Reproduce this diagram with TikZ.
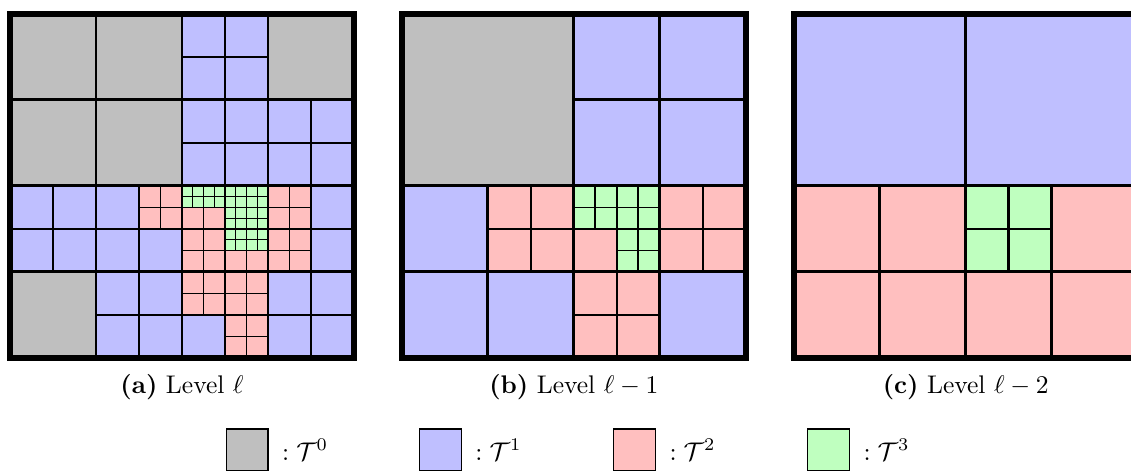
\documentclass[tikz,border=0pt]{standalone}
\usepackage{amsmath}
\definecolor{tcol0}{RGB}{191,191,191}
\definecolor{tcol1}{RGB}{191,191,255}
\definecolor{tcol2}{RGB}{255,191,191}
\definecolor{tcol3}{RGB}{191,255,191}

\begin{document}
\begin{tikzpicture}[x=4.214pt, y=4.214pt, border/.style = {line width=2.4pt}, lw16/.style = {line width=1.2pt}, lw8/.style = {line width=1.15pt}, lw4/.style = {line width=1pt}, lw2/.style = {line width=0.75pt}, lw1/.style = {line width=0.4pt}, key/.style = {draw, line width=0.6pt, minimum size=16.4pt, inner sep=0pt}]

    \useasboundingbox (-0.93,-10.95) rectangle (104.28,33.30);

    % level l
    \fill[tcol1] (0,0) rectangle (32,32);
    \fill[tcol0] (0,16) rectangle (16,32) (24,24) rectangle (32,32) (0,0) rectangle (8,8);
    \fill[tcol2] (12,12) rectangle (16,16) (16,8) rectangle (28,16) (16,4) rectangle (24,8) (20,0) rectangle (24,4);
    \fill[tcol3] (16,14) rectangle (24,16) (20,10) rectangle (24,14);
    \draw[lw1] (16,14) grid[step=1] (24,16) (20,10) grid[step=1] (24,14);
    \draw[lw2] (12,12) grid[step=2] (16,16) (16,8) grid[step=2] (28,16) (16,4) grid[step=2] (24,8) (20,0) grid[step=2] (24,4);
    \draw[lw4] (16,16) grid[step=4] (24,32) (24,16) grid[step=4] (32,24) (0,8) grid[step=4] (32,16) (8,0) grid[step=4] (32,8);
    \draw[lw8] (0,0) grid[step=8] (32,32);
    \draw[border] (0,0) rectangle (32,32);

    % level l-1
    \begin{scope}[shift={(36.45,0)}]
    \fill[tcol1] (0,0) rectangle (32,32);
    \fill[tcol0] (0,16) rectangle (16,32);
    \fill[tcol2] (8,8) rectangle (32,16) (16,0) rectangle (24,8);
    \fill[tcol3] (16,12) rectangle (24,16) (20,8) rectangle (24,12);
    \draw[lw2] (16,12) grid[step=2] (24,16) (20,8) grid[step=2] (24,12);
    \draw[lw4] (8,8) grid[step=4] (32,16) (16,0) grid[step=4] (24,8);
    \draw[lw8] (16,16) grid[step=8] (32,32) (0,0) grid[step=8] (32,16);
    \draw[lw16] (0,0) grid[step=16] (32,32);
    \draw[border] (0,0) rectangle (32,32);
    \end{scope}

    % level l-2
    \begin{scope}[shift={(72.9,0)}]
    \fill[tcol1] (0,16) rectangle (32,32);
    \fill[tcol2] (0,0) rectangle (32,16);
    \fill[tcol3] (16,8) rectangle (24,16);
    \draw[lw4] (16,8) grid[step=4] (24,16);
    \draw[lw8] (0,0) grid[step=8] (32,16);
    \draw[lw16] (0,0) grid[step=16] (32,32);
    \draw[border] (0,0) rectangle (32,32);
    \end{scope}

    % captions
    \node[anchor=base] (capa) at (16,-3.3) {\textbf{(a)} Level $\ell$};
    \node[anchor=base] (capb) at (52.45,-3.3) {\textbf{(b)} Level $\ell-1$};
    \node[anchor=base] (capc) at (88.9,-3.3) {\textbf{(c)} Level $\ell-2$};

    % legend
    \foreach \k/\xc in {0/22.07, 1/40.05, 2/58.1, 3/76.15} {
        \node[key, fill=tcol\k] (key\k) at (\xc,-8.53) {};
        \node[anchor=west, inner sep=0pt, xshift=5pt] (lab\k) at (key\k.east) {$:\mathcal{T}^{\k}$};
    }

\end{tikzpicture}
\end{document}
